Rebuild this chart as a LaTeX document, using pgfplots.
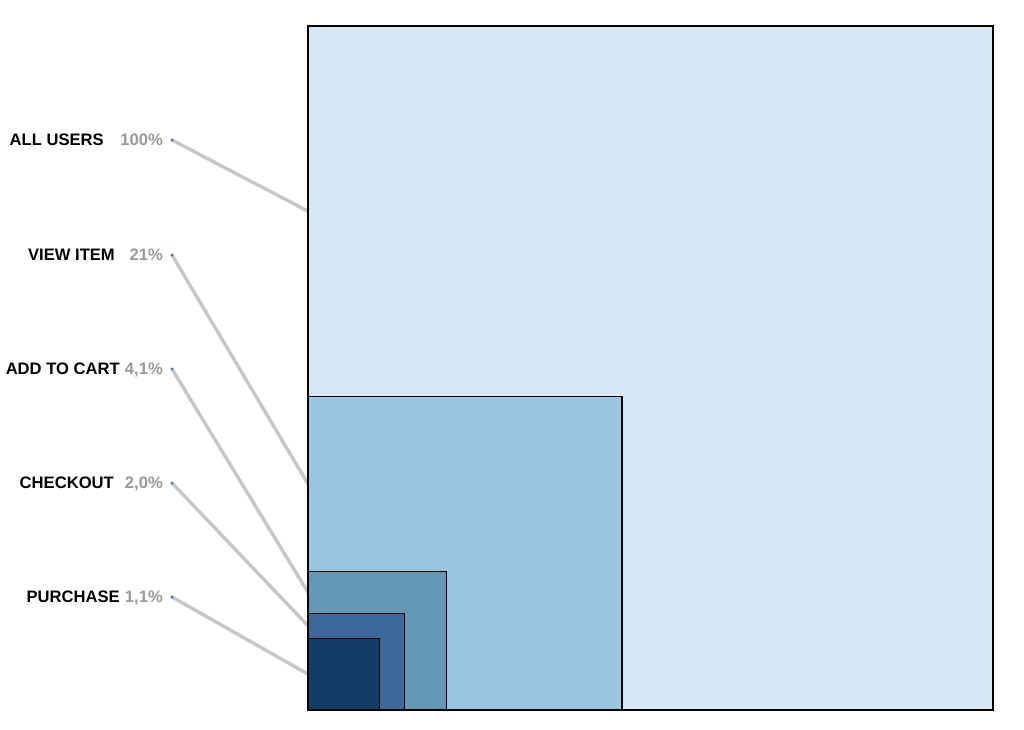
\documentclass[border=0pt]{standalone}
\usepackage{pgfplots}
\pgfplotsset{compat=1.18}
\usepackage{fontspec}
\setmainfont{Liberation Sans}
\definecolor{c1}{HTML}{D6E8F6}
\definecolor{c2}{HTML}{9BC6DF}
\definecolor{c3}{HTML}{6598B5}
\definecolor{c4}{HTML}{3E6898}
\definecolor{c5}{HTML}{133C69}
\definecolor{lead}{HTML}{C6C6C6}
\definecolor{pct}{HTML}{999999}
\definecolor{dot}{HTML}{4A78B0}
\begin{document}
\begin{tikzpicture}
\begin{axis}[name=ax, width=1024pt, height=730pt, scale only axis,
  xmin=-0.44964, xmax=1.04526, ymin=-0.02924, ymax=1.03801,
  hide axis, clip=false]
\addplot[draw=none, fill=none] coordinates {(-0.44964,-0.02924) (1.04526,1.03801)};
% leader lines: from label dot to the middle of each visible band
\addplot[lead, line width=3.4pt] coordinates {(-0.19854,0.83333) (0,0.72915)};
\addplot[lead, line width=3.4pt] coordinates {(-0.19854,0.66520) (0,0.33040)};
\addplot[lead, line width=3.4pt] coordinates {(-0.19854,0.49854) (0,0.17195)};
\addplot[lead, line width=3.4pt] coordinates {(-0.19854,0.33187) (0,0.12315)};
\addplot[lead, line width=3.4pt] coordinates {(-0.19854,0.16520) (0,0.05245)};
% squares: side = sqrt(share)
\addplot[fill=c1, draw=black, line width=1.2pt] coordinates {(0,0) (1,0) (1,1) (0,1)} -- cycle;
\addplot[fill=c2, draw=black, line width=1.2pt] coordinates {(0,0) (0.4583,0) (0.4583,0.4583) (0,0.4583)} -- cycle;
\addplot[fill=c3, draw=black, line width=1.2pt] coordinates {(0,0) (0.2025,0) (0.2025,0.2025) (0,0.2025)} -- cycle;
\addplot[fill=c4, draw=black, line width=1.2pt] coordinates {(0,0) (0.1414,0) (0.1414,0.1414) (0,0.1414)} -- cycle;
\addplot[fill=c5, draw=black, line width=1.2pt] coordinates {(0,0) (0.1049,0) (0.1049,0.1049) (0,0.1049)} -- cycle;
% dots
\addplot[only marks, mark=*, mark size=1.3pt, color=dot] coordinates {(-0.19854,0.83333) (-0.19854,0.66520) (-0.19854,0.49854) (-0.19854,0.33187) (-0.19854,0.16520)};
% labels
\tikzset{lbl/.style={anchor=base east, inner sep=0pt, font=\fontsize{16.6}{18}\selectfont\bfseries}}
\node[lbl] at (axis cs:-0.29781,0.82456) {ALL USERS};
\node[lbl] at (axis cs:-0.28175,0.65643) {VIEW ITEM};
\node[lbl] at (axis cs:-0.27445,0.48977) {ADD TO CART};
\node[lbl] at (axis cs:-0.28321,0.32310) {CHECKOUT};
\node[lbl] at (axis cs:-0.27445,0.15643) {PURCHASE};
\node[lbl, text=pct] at (axis cs:-0.21168,0.82456) {100\%};
\node[lbl, text=pct] at (axis cs:-0.21168,0.65643) {21\%};
\node[lbl, text=pct] at (axis cs:-0.21168,0.48977) {4,1\%};
\node[lbl, text=pct] at (axis cs:-0.21168,0.32310) {2,0\%};
\node[lbl, text=pct] at (axis cs:-0.21168,0.15643) {1,1\%};
\end{axis}
\end{tikzpicture}
\end{document}
